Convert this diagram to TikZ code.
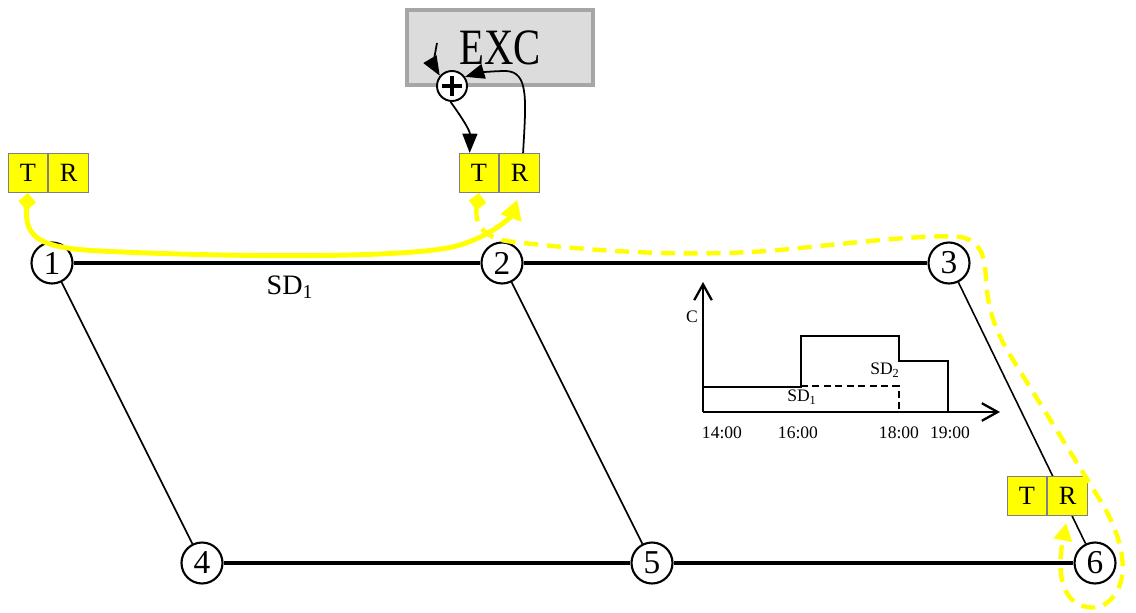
\documentclass[tikz,border=0pt]{standalone}
\usepackage{fontspec}
\usepackage{graphicx}
\setmainfont{Liberation Serif}
\usetikzlibrary{arrows.meta, positioning, calc}
\definecolor{excfill}{RGB}{220,220,220}
\definecolor{excline}{RGB}{166,166,166}
\definecolor{cellline}{RGB}{128,128,128}
\definecolor{sigyellow}{RGB}{255,255,0}

\begin{document}
\begin{tikzpicture}[x=0.02cm, y=-0.02cm,
  bus/.style={circle, draw, line width=1.2pt, fill=white, minimum size=0.82cm,
              inner sep=0pt, font=\fontsize{19}{19}\selectfont},
  cell/.style={rectangle, draw=cellline, fill=sigyellow, line width=0.6pt,
               minimum width=0.79cm, minimum height=0.78cm, inner sep=0pt,
               font=\fontsize{15}{15}\selectfont},
  exc/.style={rectangle, draw=excline, fill=excfill, line width=2.3pt,
              minimum width=3.72cm, minimum height=1.5cm, inner sep=0pt,
              font=\fontsize{29}{29}\selectfont},
  sumnode/.style={circle, draw, fill=white, line width=1.1pt, minimum size=0.6cm,
                  inner sep=0pt},
  mainln/.style={line width=2pt},
  branchln/.style={line width=0.9pt},
  ctrl/.style={-{Triangle[length=11pt, width=8.5pt]}, line width=1pt},
  ylwsolid/.style={draw=sigyellow, line width=2.8pt,
                   {Diamond[length=10pt, width=10pt]}-{Triangle[length=11pt, width=12pt]}},
  ylwdash/.style={draw=sigyellow, line width=2.5pt, dash pattern=on 8pt off 5pt,
                  {Diamond[length=10pt, width=10pt]}-{Triangle[length=10pt, width=10pt]}},
  axisln/.style={line width=1.3pt, -{Straight Barb[length=9pt, width=10pt]}},
  stepln/.style={line width=1.5pt},
  stepdash/.style={line width=1.1pt, dash pattern=on 4pt off 2.5pt},
  tick/.style={font=\fontsize{10}{10}\selectfont}
]
\useasboundingbox (0,0) rectangle (1136,612);

% ── buses ────────────────────────────────────────────────────────────────
\node[bus] (b1) at (52,263)   {1};
\node[bus] (b2) at (502,263)  {2};
\node[bus] (b3) at (949,263)  {3};
\node[bus] (b4) at (202,563)  {4};
\node[bus] (b5) at (652,563)  {5};
\node[bus] (b6) at (1095,563) {6};

% ── lines ────────────────────────────────────────────────────────────────
\draw[mainln] (b1) -- (b2);
\draw[mainln] (b2) -- (b3);
\draw[mainln] (b4) -- (b5);
\draw[mainln] (b5) -- (b6);
\draw[branchln] (b1) -- (b4);
\draw[branchln] (b2) -- (b5);
\draw[branchln] (b3) -- (b6);

\node[font=\fontsize{16}{16}\selectfont] (sd) at (290,287) {SD\textsubscript{1}};

% ── T/R units ────────────────────────────────────────────────────────────
\node[cell] (t1) at (28,173) {T};
\node[cell, right=0pt of t1] (r1) {R};
\node[cell] (t2) at (479,173) {T};
\node[cell, right=0pt of t2] (r2) {R};
\node[cell] (t3) at (1027,496) {T};
\node[cell, right=0pt of t3] (r3) {R};

% ── excitation controller ────────────────────────────────────────────────
\node[exc] (exc) at (500,47.5) {\scalebox{0.8}[1]{EXC}};
\node[sumnode] (sum) at (452,86) {};
\draw[line width=2.2pt] ($(sum.center)+(-10,0)$) -- ($(sum.center)+(10,0)$);
\draw[line width=2.2pt] ($(sum.center)+(0,-10)$) -- ($(sum.center)+(0,10)$);
\coordinate (excin) at (437,43);

\draw[ctrl] (excin) .. controls (434,58) and (434,66) .. (sum.140);
\draw[ctrl] (sum.-95) .. controls (460,115) and (470,130) .. (t2.115);
\draw[ctrl] (r2.80) .. controls (526,100) and (529,72) .. (506,71)
            .. controls (492,71) and (478,73) .. (sum.35);

% ── signals ──────────────────────────────────────────────────────────────
\draw[ylwsolid, shorten >=4pt] (t1.south) .. controls (24,238) and (40,248) .. (100,251)
      .. controls (250,258) and (420,258) .. (460,245)
      .. controls (495,234) and (512,215) .. (r2.south);
\draw[ylwdash, shorten >=4pt] (t2.south) .. controls (474,225) and (485,240) .. (515,242)
      .. controls (600,252) and (700,258) .. (790,249)
      .. controls (860,242) and (930,234) .. (960,237)
      .. controls (980,240) and (985,255) .. (986,280)
      .. controls (988,310) and (995,330) .. (1010,355)
      -- (1100,500)
      .. controls (1125,540) and (1135,590) .. (1100,607)
      .. controls (1065,612) and (1055,580) .. (r3.south);

% ── capacity chart ───────────────────────────────────────────────────────
\coordinate (orig) at (703,412);
\draw[axisln] (orig) -- (1000,412);
\draw[axisln] (orig) -- (703,282);
\draw[stepln] (703,387) -- (801,387) -- (801,336) -- (899,336) -- (899,361)
              -- (948,361) -- (948,412);
\draw[stepdash] (801,386) -- (899,386) -- (899,412);

\node[tick] (cap) at (692,317) {C};
\node[tick] (sd1) at (802,397) {SD\textsubscript{1}};
\node[tick] (sd2) at (885,370) {SD\textsubscript{2}};
\node[tick] (h14) at (722,433) {14:00};
\node[tick] (h16) at (798,433) {16:00};
\node[tick] (h18) at (899,433) {18:00};
\node[tick] (h19) at (950,433) {19:00};

\end{tikzpicture}
\end{document}
